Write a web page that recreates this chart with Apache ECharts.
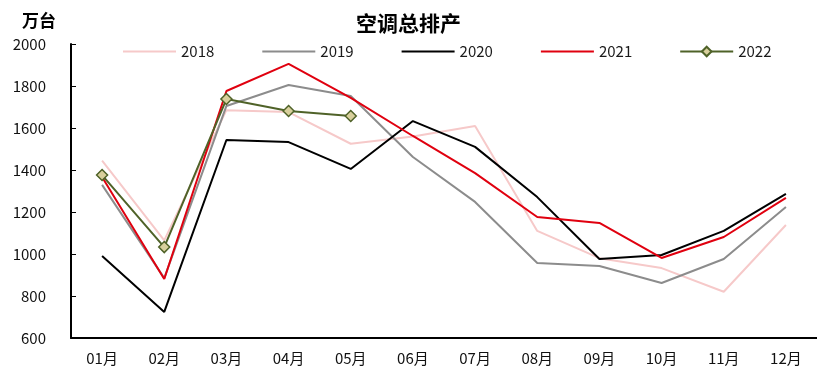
<!DOCTYPE html>
<html>
<head>
<meta charset="utf-8">
<script src="https://cdn.jsdelivr.net/npm/echarts@6/dist/echarts.min.js"></script>
<style>
  html, body { margin: 0; padding: 0; background: #fff; }
  #chart { width: 817px; height: 370px; }
</style>
</head>
<body>
<div id="chart"></div>
<script>
// 空调总排产（万台），按月
const months = ['01月', '02月', '03月', '04月', '05月', '06月', '07月', '08月', '09月', '10月', '11月', '12月'];
const y2018 = [1445, 1065, 1685, 1676, 1525, 1560, 1610, 1110, 980, 933, 820, 1138];
const y2019 = [1329, 885, 1705, 1805, 1752, 1462, 1248, 957, 943, 862, 976, 1224];
const y2020 = [990, 724, 1543, 1533, 1405, 1633, 1510, 1271, 976, 995, 1110, 1286];
const y2021 = [1367, 881, 1776, 1905, 1743, 1562, 1385, 1176, 1148, 981, 1081, 1267];
const y2022 = [1376, 1033, 1738, 1681, 1657];
const yTicks = { min: 600, max: 2000, step: 200 };

const font = '"Noto Sans CJK SC", "Noto Sans", sans-serif';

const plain = (name, data, color) => ({
  name, type: 'line', data, symbol: 'none',
  lineStyle: { color, width: 2 }, itemStyle: { color },
  emphasis: { disabled: true }, animation: false
});

// legend entries for plain lines: hide the marker, keep the stroke
const lineOnly = name => ({ name, itemStyle: { opacity: 0 } });

const chart = echarts.init(document.getElementById('chart'));
chart.setOption({
  animation: false,
  textStyle: { fontFamily: font },
  title: [
    { text: '空调总排产', left: 'center', top: 8,
      textStyle: { fontFamily: font, fontSize: 21, fontWeight: 'bold', color: '#000' } },
    { text: '万台', left: 17, top: 7,
      textStyle: { fontFamily: font, fontSize: 17, fontWeight: 'bold', color: '#000' } }
  ],
  legend: {
    top: 39, left: 117, width: 720, itemWidth: 53, itemHeight: 12, itemGap: 47,
    textStyle: { fontFamily: font, fontSize: 15, color: '#1a1a1a' },
    data: [lineOnly('2018'), lineOnly('2019'), lineOnly('2020'), lineOnly('2021'), { name: '2022' }]
  },
  grid: { left: 71, top: 44, width: 748, bottom: 32, containLabel: false },
  xAxis: {
    type: 'category', data: months, boundaryGap: true,
    axisLine: { lineStyle: { color: '#000', width: 2 } },
    axisTick: { inside: true, length: 5, lineStyle: { color: '#000' } },
    axisLabel: { color: '#111', fontSize: 15, margin: 13, fontFamily: font },
    splitLine: { show: false }
  },
  yAxis: {
    type: 'value', min: yTicks.min, max: yTicks.max, interval: yTicks.step,
    axisLine: { show: true, lineStyle: { color: '#000', width: 2 } },
    axisTick: { show: true, inside: true, length: 5, lineStyle: { color: '#000' } },
    axisLabel: { color: '#111', fontSize: 15, margin: 25, fontFamily: font,
      formatter: v => String(v) },
    splitLine: { show: false }
  },
  series: [
    plain('2018', y2018, '#f6c9c9'),
    plain('2019', y2019, '#8c8c8c'),
    plain('2020', y2020, '#000000'),
    plain('2021', y2021, '#e0000f'),
    {
      name: '2022', type: 'line', data: y2022,
      symbol: 'diamond', symbolSize: 11, showSymbol: true,
      lineStyle: { color: '#4f6228', width: 2 },
      itemStyle: { color: '#d8cf9c', borderColor: '#4f6228', borderWidth: 1.5 },
      emphasis: { disabled: true }, animation: false
    }
  ]
});
</script>
</body>
</html>
